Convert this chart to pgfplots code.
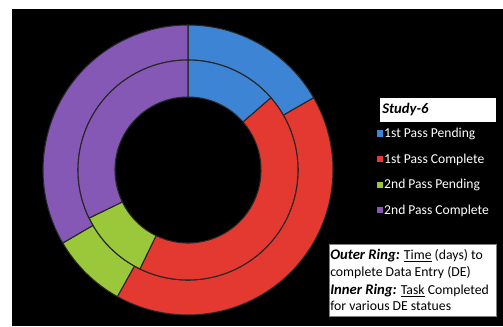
\documentclass[border=0pt]{standalone}
\usepackage{pgfplots}
\usepackage{pgfplotstable}
\pgfplotsset{compat=1.18}
\usepackage{fontspec}
\setmainfont{Carlito}
\definecolor{c0}{RGB}{62,132,212}
\definecolor{c1}{RGB}{228,57,48}
\definecolor{c2}{RGB}{154,200,58}
\definecolor{c3}{RGB}{132,88,180}
% share of each status (percent of the ring)
\pgfplotstableread{
status outer inner
1 16.7 13.6
2 41.4 43.6
3 8.5 10.6
4 33.4 32.2
}\ringdata
\newcommand\ringsector[5]{%
  \pgfmathsetmacro\xa{#5*cos(#2)}\pgfmathsetmacro\ya{#5*sin(#2)}%
  \pgfmathsetmacro\xb{#4*cos(#3)}\pgfmathsetmacro\yb{#4*sin(#3)}%
  \pgfmathsetmacro\ro{#5*0.75}\pgfmathsetmacro\ri{#4*0.75}%
  \edef\tmp{\noexpand\filldraw[fill=#1, draw=black!85, line width=0.8pt]
    (axis cs:\xa,\ya) arc[start angle=#2, end angle=#3, radius=\ro pt]
    -- (axis cs:\xb,\yb) arc[start angle=#3, end angle=#2, radius=\ri pt] -- cycle;}%
  \tmp}
\begin{document}
\begin{tikzpicture}
\begin{scope}[x=0.75pt,y=-0.75pt]
  \fill[white] (0,0) rectangle (503,326);
  \fill[black] (12,9) rectangle (503,326);
\end{scope}
\begin{axis}[at={(141pt,-127.5pt)}, anchor=center,
  scale only axis, width=217.5pt, height=217.5pt,
  xmin=-145, xmax=145, ymin=-145, ymax=145,
  hide axis, clip=false,
  legend image code/.code={\fill[#1] (0pt,-1.4pt) rectangle (4pt,2.6pt);},
  legend cell align=left,
  legend style={at={(axis description cs:1.15,0.65)}, anchor=north west,
    draw=none, fill=none, text=white, inner sep=0pt,
    font=\fontsize{10.2}{12}\selectfont, row sep=8.2pt,
    nodes={inner sep=1.2pt}},
]
\addlegendimage{c0}\addlegendentry{1st Pass Pending}
\addlegendimage{c1}\addlegendentry{1st Pass Complete}
\addlegendimage{c2}\addlegendentry{2nd Pass Pending}
\addlegendimage{c3}\addlegendentry{2nd Pass Complete}
\gdef\cumO{90}\gdef\cumI{90}
\pgfplotsinvokeforeach{0,1,2,3}{
  \pgfplotstablegetelem{#1}{outer}\of\ringdata \let\vo\pgfplotsretval
  \pgfplotstablegetelem{#1}{inner}\of\ringdata \let\vi\pgfplotsretval
  \pgfmathsetmacro\eO{\cumO-3.6*\vo}
  \pgfmathsetmacro\eI{\cumI-3.6*\vi}
  \ringsector{c#1}{\cumO}{\eO}{110}{145}
  \ringsector{c#1}{\cumI}{\eI}{73}{110}
  \xdef\cumO{\eO}\xdef\cumI{\eI}
}
\end{axis}
\begin{scope}[x=0.75pt,y=-0.75pt]
  \draw[fill=white, draw=black, line width=0.5pt] (379,97) rectangle (496,122);
  \node[anchor=west, inner sep=0pt, font=\fontsize{11}{13}\selectfont\bfseries\itshape] at (382,109.5) {Study-6};
  \draw[fill=white, draw=gray, line width=0.5pt] (329,244) rectangle (496,316);
  \node[anchor=base west, inner sep=0pt, font=\fontsize{10.3}{12}\selectfont] at (330,259)
    {{\fontsize{11}{13}\selectfont\bfseries\itshape Outer Ring:} \underline{Time} (days) to};
  \node[anchor=base west, inner sep=0pt, font=\fontsize{10.3}{12}\selectfont] at (330,276)
    {complete Data Entry (DE)};
  \node[anchor=base west, inner sep=0pt, font=\fontsize{10.3}{12}\selectfont] at (330,294)
    {{\fontsize{11}{13}\selectfont\bfseries\itshape Inner Ring:} \underline{Task} Completed};
  \node[anchor=base west, inner sep=0pt, font=\fontsize{10.3}{12}\selectfont] at (330,310)
    {for various DE statues};
\end{scope}
\end{tikzpicture}
\end{document}
